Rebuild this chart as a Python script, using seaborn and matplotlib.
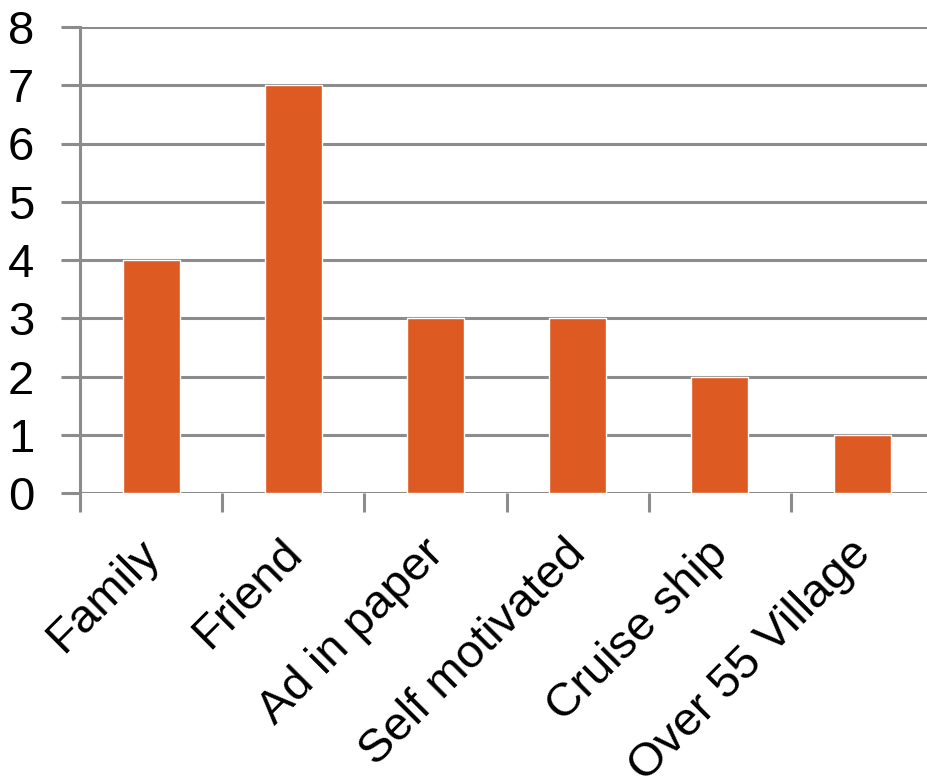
import matplotlib
matplotlib.use("Agg")
import matplotlib.pyplot as plt
import matplotlib.transforms as mtransforms
import seaborn as sns
import pandas as pd

categories = ["Family", "Friend", "Ad in paper", "Self motivated", "Cruise ship", "Over 55 Village"]
counts = [4, 7, 3, 3, 2, 1]
yticks = [0, 1, 2, 3, 4, 5, 6, 7, 8]

df = pd.DataFrame({"source": categories, "count": counts})

sns.set_theme(style="white")
plt.rcParams["font.family"] = ["Liberation Sans", "DejaVu Sans"]
plt.rcParams["text.color"] = "black"
plt.rcParams["xtick.labelcolor"] = "black"
plt.rcParams["ytick.labelcolor"] = "black"

fig = plt.figure(figsize=(9.27, 7.8), dpi=100)
ax = fig.add_axes([80 / 927, 1 - 493 / 780, 847 / 927, 466 / 780])

grid_color = "#8c8c8c"
sns.barplot(data=df, x="source", y="count", color="#DD5A23", width=0.4,
            saturation=1, ax=ax, zorder=3)

ax.set_xlim(-0.5, -0.5 + 847 / 142.2)
ax.set_ylim(0, 8)
ax.set_yticks(yticks)
ax.set_xlabel("")
ax.set_ylabel("")

for y in yticks:
    ax.axhline(y, color=grid_color, lw=2.2, zorder=1)

# category boundary ticks below the axis
ax.set_xticks([i - 0.5 for i in range(len(categories))], minor=True)
ax.set_xticks(range(len(categories)))
ax.set_xticklabels(categories, rotation=45, ha="right", rotation_mode="anchor",
                   fontsize=34, color="black")
ax.tick_params(axis="x", which="major", length=0, pad=22)
ax.tick_params(axis="x", which="minor", length=14, width=2.2, color=grid_color,
               direction="out", bottom=True)
ax.tick_params(axis="y", length=14, width=2.2, color=grid_color, labelsize=34,
               pad=19, left=True, labelcolor="black")

shift = mtransforms.ScaledTranslation(-14 / 100, -8 / 100, fig.dpi_scale_trans)
for lab in ax.get_xticklabels():
    lab.set_transform(lab.get_transform() + shift)

for side in ["top", "right", "bottom"]:
    ax.spines[side].set_visible(False)
ax.spines["left"].set_color(grid_color)
ax.spines["left"].set_linewidth(2.2)
ax.spines["left"].set_zorder(2)

fig.savefig("out.png", dpi=100)
